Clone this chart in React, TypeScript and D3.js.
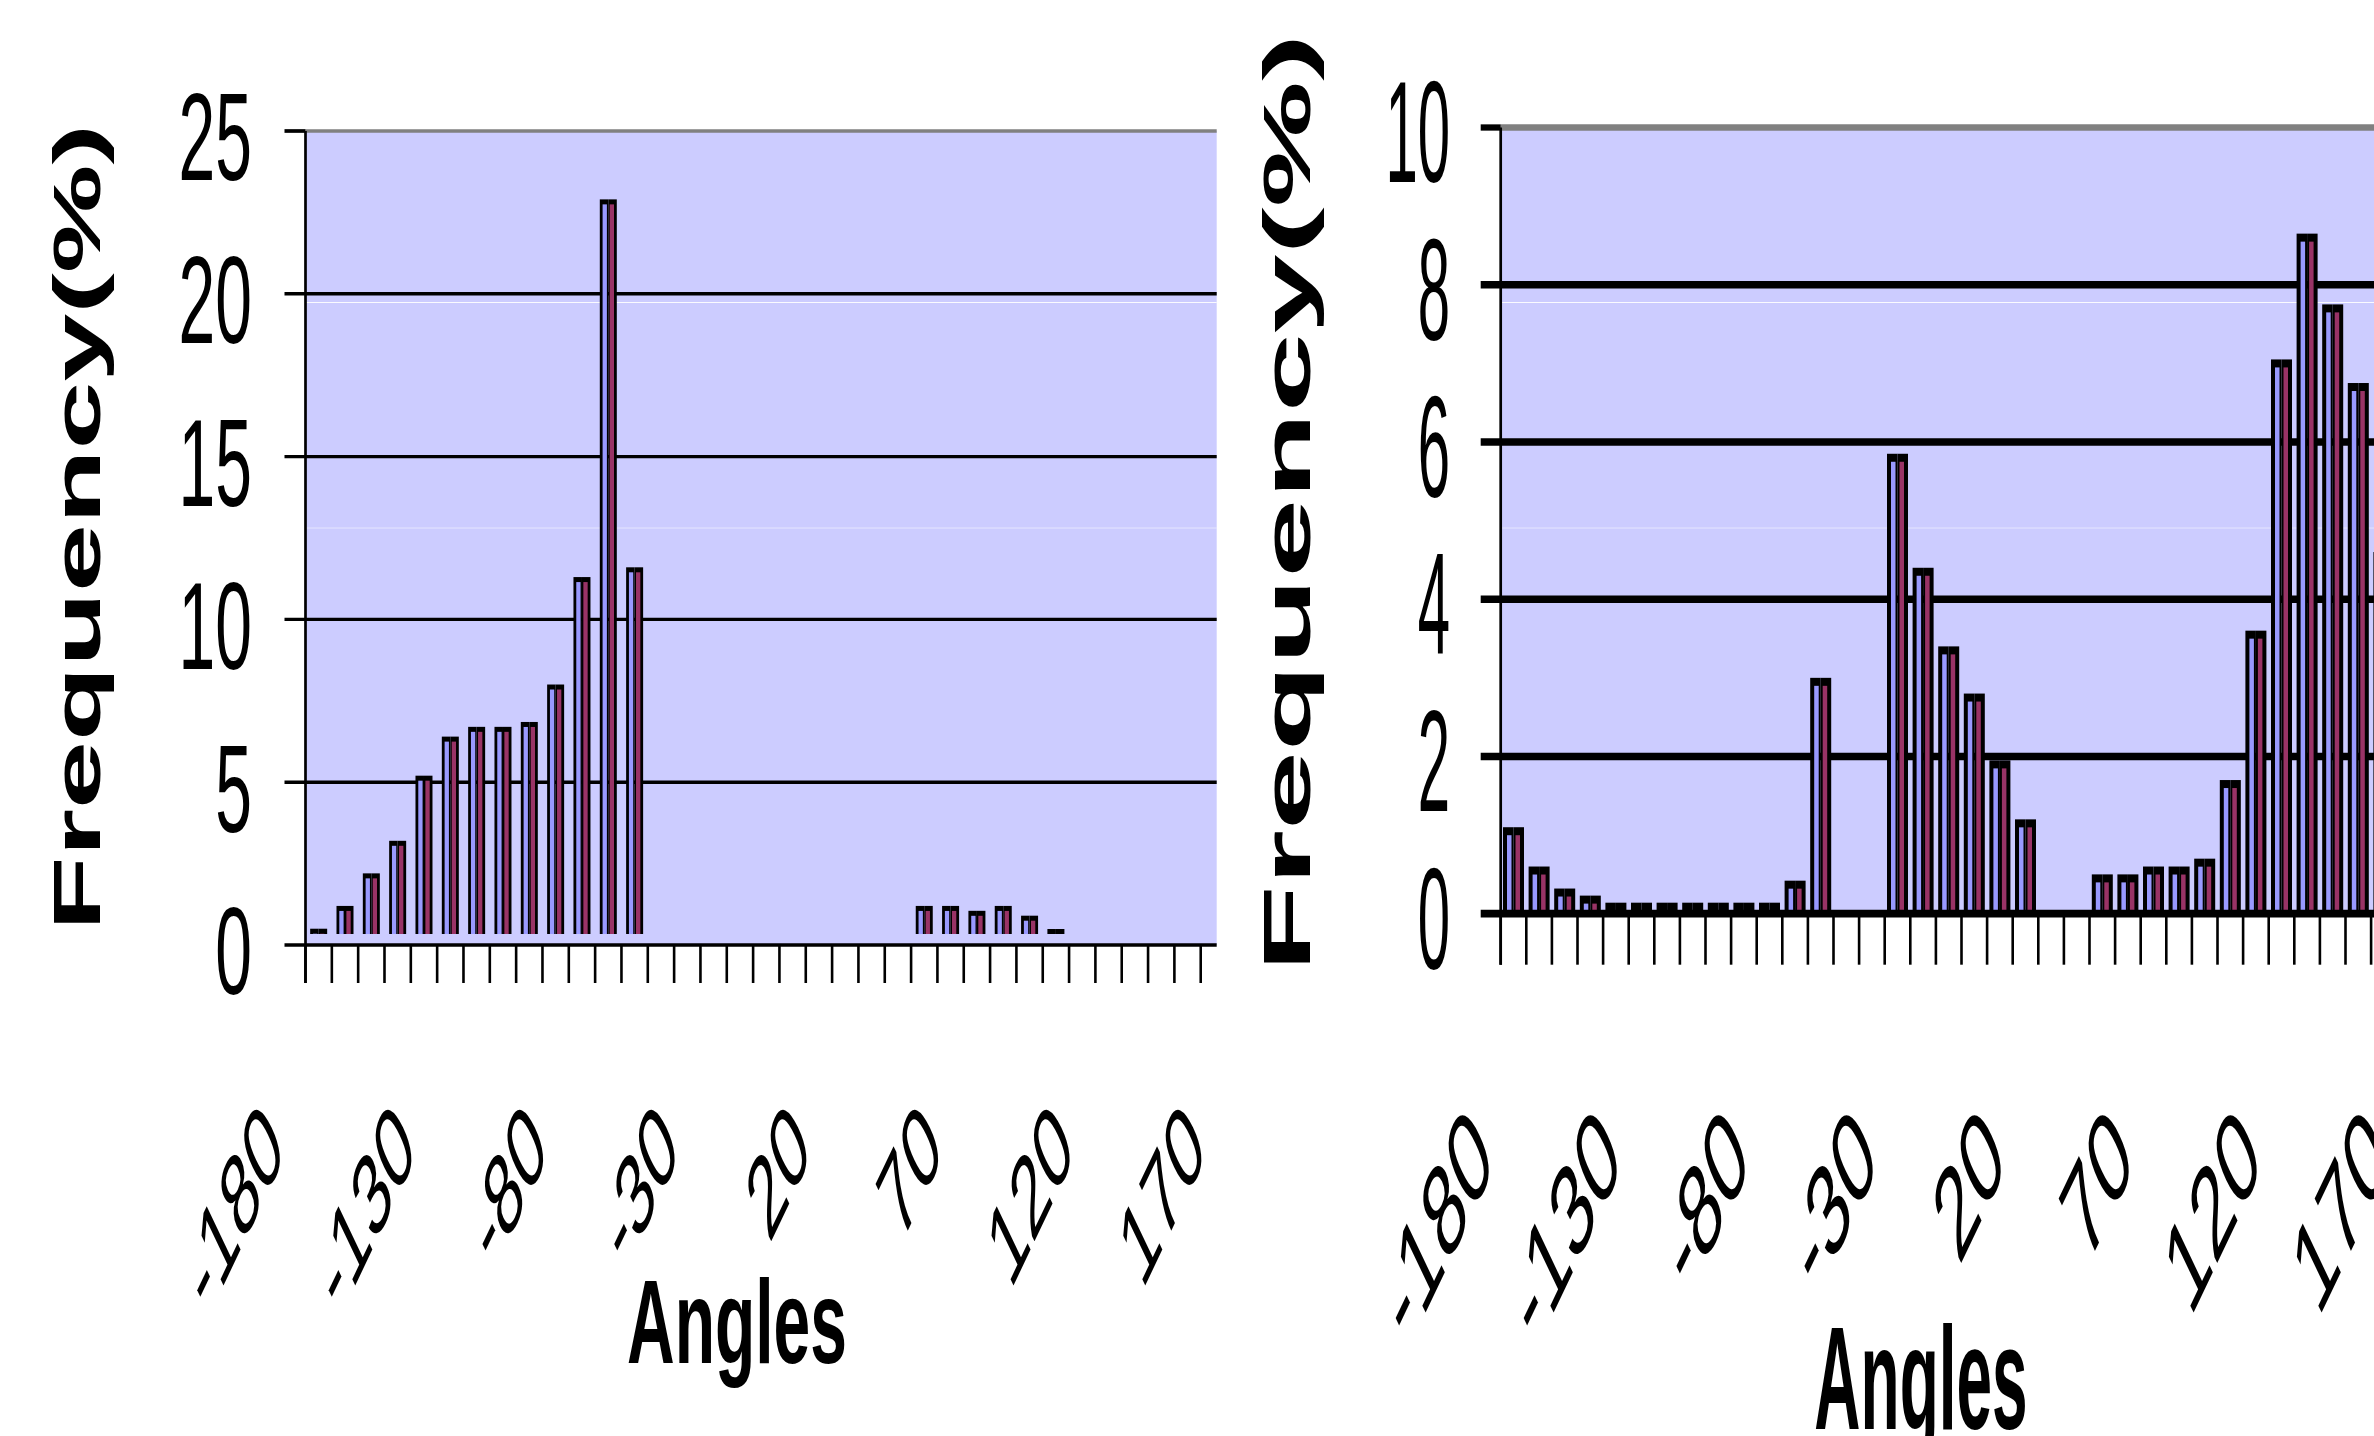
import React from "react";
import * as d3 from "d3";

// 10 degree angle bins, -180 .. 170
const angleCategories = [
  "-180", "-170", "-160", "-150", "-140", "-130", "-120", "-110", "-100", "-90",
  "-80", "-70", "-60", "-50", "-40", "-30", "-20", "-10", "0", "10",
  "20", "30", "40", "50", "60", "70", "80", "90", "100", "110",
  "120", "130", "140", "150", "160", "170",
];
const angleTickLabels = ["-180", "-130", "-80", "-30", "20", "70", "120", "170"];

// left panel, frequency (%) per bin, two series drawn side by side
const leftSeriesBlue = [
  0.5, 1.2, 2.2, 3.2, 5.2, 6.4, 6.7, 6.7, 6.85, 8.0,
  11.3, 22.9, 11.6, 0, 0, 0, 0, 0, 0, 0,
  0, 0, 0, 1.2, 1.2, 1.05, 1.2, 0.9, 0.45, 0,
  0, 0, 0, 0, 0, 0,
];
const leftSeriesPlum = [
  0.5, 1.2, 2.2, 3.2, 5.2, 6.4, 6.7, 6.7, 6.85, 8.0,
  11.3, 22.9, 11.6, 0, 0, 0, 0, 0, 0, 0,
  0, 0, 0, 1.2, 1.2, 1.05, 1.2, 0.9, 0.45, 0,
  0, 0, 0, 0, 0, 0,
];
const leftYTicks = [0, 5, 10, 15, 20, 25];

// right panel (last bin is cropped off in the source)
const rightSeriesBlue = [
  1.1, 0.6, 0.32, 0.23, 0.14, 0.14, 0.14, 0.14, 0.14, 0.14,
  0.14, 0.42, 3.0, 0, 0, 5.85, 4.4, 3.4, 2.8, 1.95,
  1.2, 0, 0, 0.5, 0.5, 0.6, 0.6, 0.7, 1.7, 3.6,
  7.05, 8.65, 7.75, 6.75, 4.6, 0,
];
const rightSeriesPlum = [
  1.1, 0.6, 0.32, 0.23, 0.14, 0.14, 0.14, 0.14, 0.14, 0.14,
  0.14, 0.42, 3.0, 0, 0, 5.85, 4.4, 3.4, 2.8, 1.95,
  1.2, 0, 0, 0.5, 0.5, 0.6, 0.6, 0.7, 1.7, 3.6,
  7.05, 8.65, 7.75, 6.75, 4.6, 0,
];
const rightYTicks = [0, 2, 4, 6, 8, 10];

const FONT = "'Liberation Sans', Arial, sans-serif";
const BG = "#CCCCFF";
const BLUE = "#9999FF";
const PLUM = "#993366";

type Layout = {
  axisX: number;
  plotRight: number;
  yTop: number;
  y0: number;
  step: number;
  pairW: number;
  sideW: number;
  topW: number;
  barLift: number;
  gridW: number;
  zeroW: number;
  topLineW: number;
  tickLen: number;
  yTickLen: number;
  sx: number;
  sy: number;
  labelX: number;
  labelDy: number;
  xLabSize: number;
  xLabSy: number;
  xLabDx: number;
  xLabDy: number;
  titleX: number;
  titleY: number;
  titleSy: number;
  anglesX: number;
  anglesY: number;
  anglesSy: number;
  anglesSize: number;
};

function Panel({ blue, plum, yTicks, L }: { blue: number[]; plum: number[]; yTicks: number[]; L: Layout }) {
  const yMax = yTicks[yTicks.length - 1];
  const y = d3.scaleLinear().domain([0, yMax]).range([L.y0, L.yTop]);
  const x = d3
    .scaleBand<string>()
    .domain(angleCategories)
    .range([L.axisX, L.axisX + L.step * angleCategories.length])
    .padding(0);
  const bw = x.bandwidth();
  const base = L.y0 - L.barLift;
  const half = L.pairW / 2;

  const boundaries = d3.range(angleCategories.length + 1)
    .map((i) => L.axisX + i * x.step())
    .filter((v) => v <= L.plotRight + 0.5);

  return (
    <g>
      {/* plot area */}
      <rect x={L.axisX} y={L.yTop} width={L.plotRight - L.axisX} height={L.y0 - L.yTop} fill={BG} />
      {/* stitching artefacts of the scan */}
      <line x1={L.axisX} x2={L.plotRight} y1={302.5} y2={302.5} stroke="#fff" strokeWidth={1} opacity={0.9} />
      <line x1={L.axisX} x2={L.plotRight} y1={528} y2={528} stroke="#fff" strokeWidth={1} opacity={0.5} />

      {/* gridlines */}
      {yTicks.filter((t) => t > 0 && t < yMax).map((t) => (
        <line key={t} x1={L.axisX - L.yTickLen} x2={L.plotRight} y1={y(t)} y2={y(t)} stroke="#000" strokeWidth={L.gridW} />
      ))}
      <line x1={L.axisX} x2={L.plotRight} y1={y(yMax)} y2={y(yMax)} stroke="#808080" strokeWidth={L.topLineW} />
      <line x1={L.axisX - L.yTickLen} x2={L.axisX} y1={y(yMax)} y2={y(yMax)} stroke="#000" strokeWidth={L.topLineW} />

      {/* bars */}
      {angleCategories.map((c, i) => {
        const cx = (x(c) as number) + bw / 2;
        const x0 = cx - half;
        return [blue[i], plum[i]].map((v, s) => {
          if (!(v > 0)) return null;
          const top = Math.min(y(v), base - L.topW);
          const sx = x0 + s * half;
          const inL = s === 0 ? L.sideW : L.sideW / 2;
          const inR = s === 0 ? L.sideW / 2 : L.sideW;
          return (
            <g key={c + s}>
              <rect x={sx} y={top} width={half} height={base - top} fill="#000" />
              <rect
                x={sx + inL}
                y={top + L.topW}
                width={Math.max(0, half - inL - inR)}
                height={Math.max(0, base - top - L.topW)}
                fill={s === 0 ? BLUE : PLUM}
              />
            </g>
          );
        });
      })}

      {/* axes */}
      <line x1={L.axisX} x2={L.axisX} y1={L.yTop} y2={L.y0 + L.tickLen} stroke="#000" strokeWidth={2.7} />
      {boundaries.map((bx, i) => (
        <line key={i} x1={bx} x2={bx} y1={L.y0} y2={L.y0 + L.tickLen} stroke="#000" strokeWidth={2.6} />
      ))}
      <line x1={L.axisX - L.yTickLen} x2={L.plotRight} y1={L.y0} y2={L.y0} stroke="#000" strokeWidth={L.zeroW} />

      {/* y tick labels */}
      {yTicks.map((t) => (
        <text
          key={t}
          transform={`translate(${L.labelX},${y(t) + L.labelDy}) scale(${L.sx},${L.sy})`}
          y={0.358 * 66}
          textAnchor="end"
          fontFamily={FONT}
          fontSize={66}
          fill="#000"
        >
          {t}
        </text>
      ))}

      {/* x tick labels */}
      {angleTickLabels.map((lab) => {
        const cx = (x(lab) as number) + bw / 2;
        return (
          <g key={lab} transform={`translate(${cx},${L.y0}) scale(1,${L.xLabSy})`}>
            <text
              transform={`translate(${L.xLabDx},${L.xLabDy}) rotate(-45)`}
              textAnchor="end"
              fontFamily={FONT}
              fontSize={L.xLabSize}
              fill="#000"
            >
              {lab}
            </text>
          </g>
        );
      })}

      {/* axis titles */}
      <text
        transform={`translate(${L.titleX},${L.titleY}) scale(1,${L.titleSy}) rotate(-90)`}
        textAnchor="start"
        fontFamily={FONT}
        fontWeight="bold"
        fontSize={66}
        fill="#000"
      >
        Frequency(%)
      </text>
      <text
        transform={`translate(${L.anglesX},${L.anglesY}) scale(1,${L.anglesSy})`}
        textAnchor="middle"
        fontFamily={FONT}
        fontWeight="bold"
        fontSize={L.anglesSize}
        fill="#000"
      >
        Angles
      </text>
    </g>
  );
}

const leftLayout: Layout = {
  axisX: 305.5, plotRight: 1216.7, yTop: 131, y0: 945, step: 26.33,
  pairW: 17, sideW: 2.8, topW: 5, barLift: 11,
  gridW: 3.4, zeroW: 3.4, topLineW: 3.7, tickLen: 38, yTickLen: 21,
  sx: 1, sy: 1.88, labelX: 252, labelDy: 5,
  xLabSize: 56, xLabSy: 2.1, xLabDx: -32, xLabDy: 99,
  titleX: 100, titleY: 931, titleSy: 1.85,
  anglesX: 737, anglesY: 1363, anglesSy: 1.8, anglesSize: 66,
};

const rightLayout: Layout = {
  axisX: 1500.7, plotRight: 2374, yTop: 127.5, y0: 913.7, step: 25.6,
  pairW: 21, sideW: 4, topW: 8, barLift: 0,
  gridW: 7.5, zeroW: 7.7, topLineW: 6.3, tickLen: 51, yTickLen: 20,
  sx: 0.88, sy: 2.2, labelX: 1450, labelDy: 3,
  xLabSize: 63, xLabSy: 2.1, xLabDx: -17, xLabDy: 119,
  titleX: 1310, titleY: 972, titleSy: 2.15,
  anglesX: 1921, anglesY: 1429, anglesSy: 2.3, anglesSize: 64,
};

export default function App() {
  return (
    <svg
      width={2374}
      height={1436}
      viewBox="0 0 2374 1436"
      style={{ position: "fixed", left: 0, top: 0, background: "#fff" }}
    >
      <rect width={2374} height={1436} fill="#fff" />
      <Panel blue={leftSeriesBlue} plum={leftSeriesPlum} yTicks={leftYTicks} L={leftLayout} />
      <Panel blue={rightSeriesBlue} plum={rightSeriesPlum} yTicks={rightYTicks} L={rightLayout} />
    </svg>
  );
}
